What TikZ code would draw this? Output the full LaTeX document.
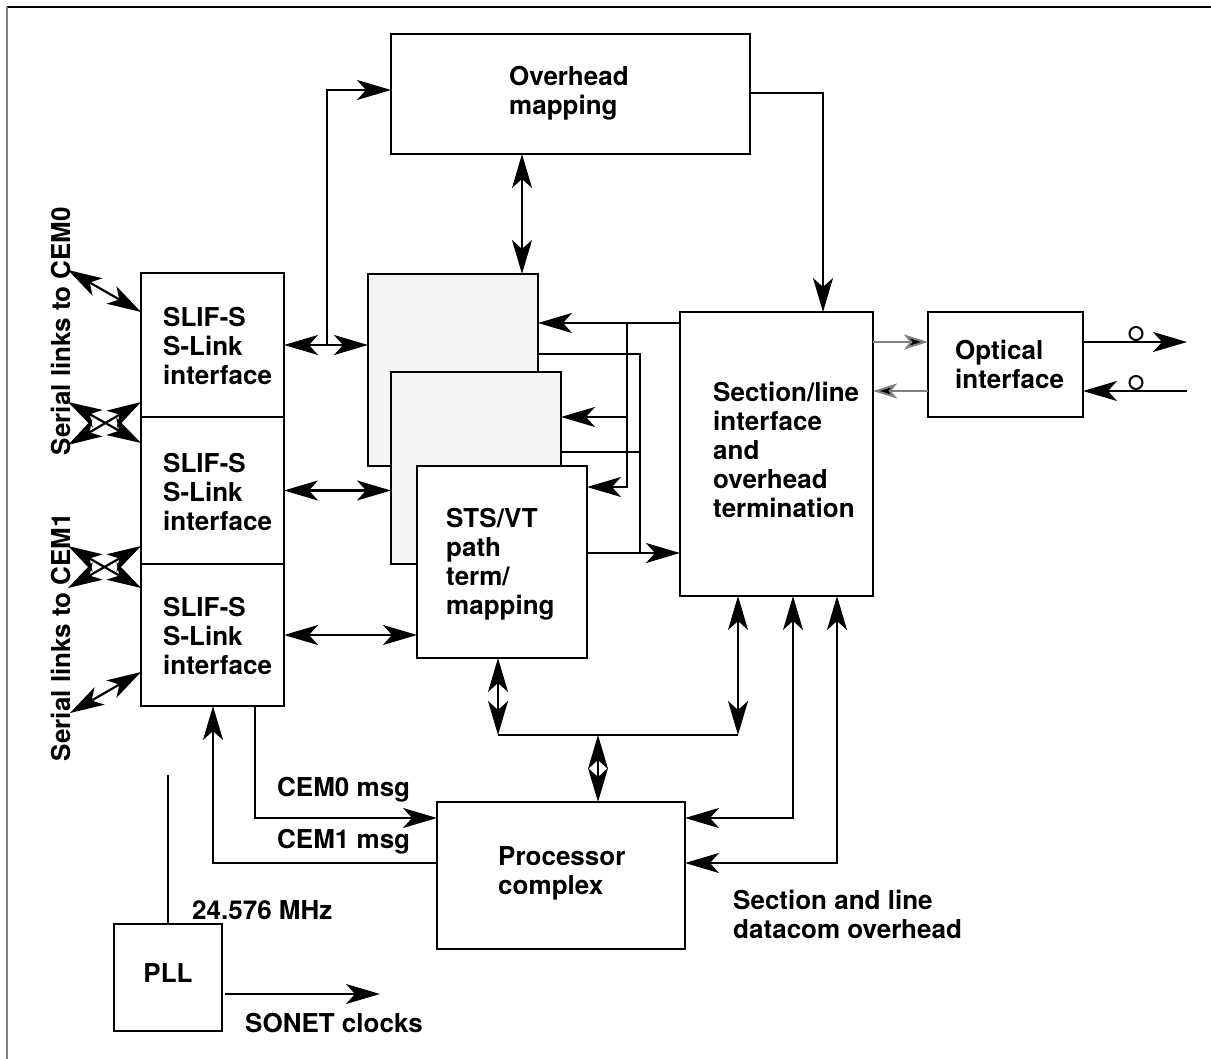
\documentclass[tikz,border=0pt]{standalone}
\usepackage{fontspec}
\setmainfont{TeX Gyre Heros}
\usetikzlibrary{arrows.meta,calc}
\tikzset{
  box/.style={draw, line width=2.3pt, inner sep=0pt, outer sep=0pt},
  lbl/.style={font=\fontsize{26}{29}\selectfont\bfseries, align=left, inner sep=0pt},
  conn/.style={line width=2.2pt},
  arr/.style={conn, -{Stealth[length=34pt,width=20pt,inset=9pt]}},
  dbl/.style={conn, {Stealth[length=34pt,width=20pt,inset=9pt]}-{Stealth[length=34pt,width=20pt,inset=9pt]}},
  garr/.style={line width=2pt, draw=gray, -{Stealth[length=24pt,width=15pt,inset=6pt,fill=black]}},
  ring/.style={circle, draw, line width=2pt, minimum size=13pt, inner sep=0pt}
}
\begin{document}
\begin{tikzpicture}[x=1pt,y=-1pt]
\useasboundingbox (0,0) rectangle (1211,1059);
% frame
\draw[line width=2pt] (7,7) -- (1211,7);
\draw[line width=2pt, gray] (7,7) -- (7,1059);

% boxes
\node[box, minimum width=359pt, minimum height=120pt] (ovh) at (570.5,94) {};
\node[box, minimum width=143pt, minimum height=144pt] (slif1) at (212.5,345) {};
\node[box, minimum width=143pt, minimum height=147pt] (slif2) at (212.5,490.5) {};
\node[box, minimum width=143pt, minimum height=142pt] (slif3) at (212.5,635) {};
\node[box, fill=black!4, minimum width=170pt, minimum height=192pt] (back) at (453,370) {};
\node[box, fill=black!4, minimum width=170pt, minimum height=192pt] (mid) at (476,468) {};
\node[box, fill=white, minimum width=170pt, minimum height=192pt] (front) at (502,562) {};
\node[box, minimum width=193pt, minimum height=284pt] (sec) at (776.5,454) {};
\node[box, minimum width=155pt, minimum height=105pt] (opt) at (1005.5,364.5) {};
\node[box, minimum width=248pt, minimum height=147pt] (proc) at (561,875.5) {};
\node[box, minimum width=108pt, minimum height=107pt] (pll) at (168,977.5) {};

% texts
\node[lbl, anchor=west] (tovh) at (509,93) {Overhead\\mapping};
\node[lbl, anchor=west] (ts1) at (163,346) {SLIF-S\\S-Link\\interface};
\node[lbl, anchor=west] (ts2) at (163,492) {SLIF-S\\S-Link\\interface};
\node[lbl, anchor=west] (ts3) at (163,636) {SLIF-S\\S-Link\\interface};
\node[lbl, anchor=west] (tfr) at (446,564) {STS/VT\\path\\term/\\mapping};
\node[lbl, anchor=west] (tsec) at (713,450) {Section/line\\interface\\and\\overhead\\termination};
\node[lbl, anchor=west] (topt) at (955,364) {Optical\\interface};
\node[lbl, anchor=west] (tproc) at (498,873) {Processor\\complex};
\node[lbl] (tpll) at (168,973) {PLL};
\node[lbl, anchor=west] (tc0) at (277,790) {CEM0 msg};
\node[lbl, anchor=west] (tc1) at (277,842) {CEM1 msg};
\node[lbl, anchor=west] (tmhz) at (192,910) {24.576 MHz};
\node[lbl, anchor=west] (tson) at (245,1023) {SONET clocks};
\node[lbl, anchor=west] (tdcc) at (733,914) {Section and line\\datacom overhead};
\node[lbl, rotate=90] (tl0) at (61,331) {Serial links to CEM0};
\node[lbl, rotate=90] (tl1) at (61,637) {Serial links to CEM1};

% coordinates
\coordinate (j1) at (327,345);
\coordinate (s1) at (680,323);
\coordinate (v1top) at (627,323);
\coordinate (v1mid) at (627,417);
\coordinate (v1bot) at (627,487);
\coordinate (v2top) at (640,354);
\coordinate (v2bot) at (640,553);
\coordinate (s2) at (680,553);
\coordinate (bl) at (498,735);
\coordinate (bm) at (598,735);
\coordinate (br) at (738,735);
\coordinate (k1) at (793,818);
\coordinate (k2) at (837,863);
\coordinate (m0) at (255,818);
\coordinate (m1) at (213,863);
\coordinate (p0) at (168,775);
\coordinate (pe) at (225,994);
\coordinate (sc) at (380,994);
\coordinate (g1) at (873,342);
\coordinate (g2) at (873,391);
\coordinate (o1) at (1187,342);
\coordinate (o2) at (1187,391);
\coordinate (L1) at (68,270);
\coordinate (L2) at (68,402);
\coordinate (L3) at (68,445);
\coordinate (L4) at (68,546);
\coordinate (L5) at (68,588);
\coordinate (L6) at (70,713);

% connectors top area
\draw[dbl] (slif1.east) -- (slif1.east -| back.west);
\draw[arr] (j1) |- ([yshift=4pt]ovh.west);
\draw[arr] ([yshift=1pt]ovh.east) -| ([xshift=46.5pt]sec.north);
\draw[dbl] ([xshift=-48.5pt]ovh.south) -- ([xshift=69pt]back.north);
\draw[dbl] (slif2.east) -- (slif2.east -| mid.west);
\draw[dbl] (slif3.east) -- (slif3.east -| front.west);

% between stack and section box
\draw[arr] (s1) -- (s1 -| back.east);
\draw[arr] (v1top) |- (front.east |- v1bot);
\draw[arr] (v1mid) -- (v1mid -| mid.east);
\draw[conn] ([yshift=16pt]back.east) -| (v2bot);
\draw[conn] ([yshift=16pt]mid.east) -- ([yshift=16pt]mid.east -| v2top);
\draw[arr] (front.east |- v2bot) -- (s2);

% bus to processor
\draw[dbl] (front.south -| bl) -- (bl);
\draw[conn] (bl) -- (br);
\draw[dbl] (sec.south -| br) -- (br);
\draw[dbl] (bm) -- (proc.north -| bm);
\draw[dbl] (sec.south -| k1) |- (proc.east |- k1);
\draw[dbl] (sec.south -| k2) |- (proc.east |- k2);

% SLIF and processor
\draw[arr] (slif3.south -| m0) |- (proc.west |- m0);
\draw[arr] (proc.west |- m1) -| (slif3.south -| m1);

% PLL
\draw[conn] (pll.north) -- (p0);
\draw[arr] (pe) -- (sc);

% optical
\draw[garr] (g1) -- (g1 -| opt.west);
\draw[garr] (g2 -| opt.west) -- (g2);
\draw[arr] (opt.east |- o1) -- (o1);
\draw[arr] (o2) -- (opt.east |- o2);
\node[ring, anchor=south] (c1) at (1136,341) {};
\node[ring, anchor=south] (c2) at (1136,390) {};

% serial links
\draw[dbl] (L1) -- ([yshift=-39pt]slif1.north west);
\draw[dbl] (L2) -- ([yshift=-26pt]slif2.north west);
\draw[dbl] (L3) -- ([yshift=15pt]slif2.north west);
\draw[dbl] (L4) -- ([yshift=-24pt]slif3.north west);
\draw[dbl] (L5) -- ([yshift=18pt]slif3.north west);
\draw[dbl] (L6) -- ([yshift=34pt]slif3.south west);
\end{tikzpicture}
\end{document}
